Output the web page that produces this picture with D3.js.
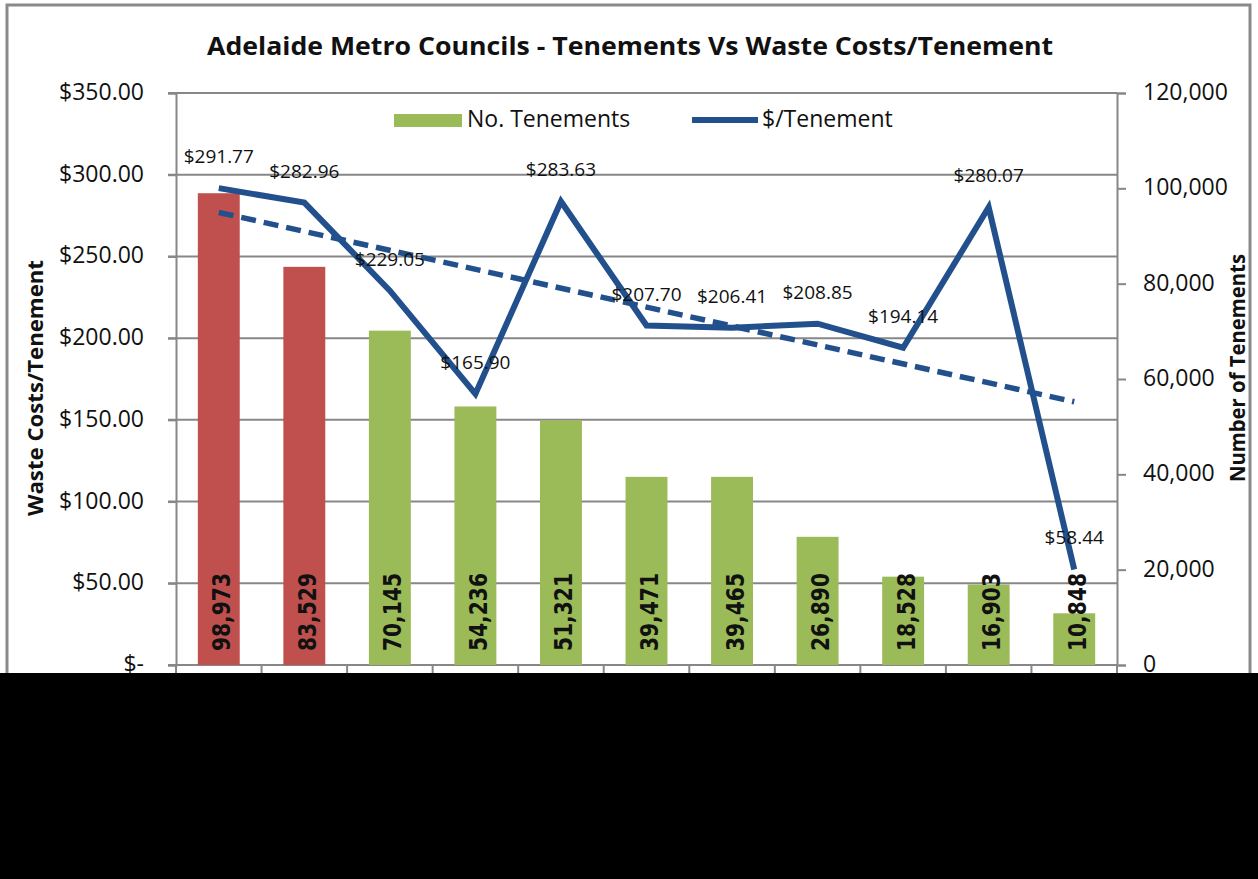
<!DOCTYPE html>
<html>
<head>
<meta charset="utf-8">
<script src="https://cdn.jsdelivr.net/npm/d3@7"></script>
<style>
  body { margin: 0; background: #fff; }
  svg { display: block; }
</style>
</head>
<body>
<svg id="drawing_region"></svg>
<script>
// values
const councils = ['C1', 'C2', 'C3', 'C4', 'C5', 'C6', 'C7', 'C8', 'C9', 'C10', 'C11']
const tenements = [98973, 83529, 70145, 54236, 51321, 39471, 39465, 26890, 18528, 16903, 10848]
const costPerTenement = [291.77, 282.96, 229.05, 165.90, 283.63, 207.70, 206.41, 208.85, 194.14, 280.07, 58.44]
const leftTicks = [0, 50, 100, 150, 200, 250, 300, 350]
const rightTicks = [0, 20000, 40000, 60000, 80000, 100000, 120000]
const highlighted = 2   // first bars drawn in red

class ComboChart {
    constructor(config) {
        this.config = config
        this.init()
    }

    init() {
        let self = this
        let c = self.config

        self.svg = d3.select(c.parent)
            .attr('width', c.width)
            .attr('height', c.height)

        self.x = d3.scaleBand().domain(councils)
            .range([c.left, c.right])
            .paddingInner(0.51).paddingOuter(0.255)
        self.yLeft = d3.scaleLinear().domain([0, 350]).range([c.bottom, c.top])
        self.yRight = d3.scaleLinear().domain([0, 120000]).range([c.bottom, c.top])
    }

    render() {
        let self = this
        let c = self.config
        let svg = self.svg
        let font = "'Open Sans', 'Liberation Sans', sans-serif"

        // outer frame
        svg.append('rect')
            .attr('x', 7).attr('y', 5)
            .attr('width', c.width - 15).attr('height', c.height - 10)
            .attr('fill', '#fff').attr('stroke', '#8a8a8a').attr('stroke-width', 3)

        // gridlines
        svg.append('g').selectAll('line').data(leftTicks).enter()
            .append('line')
            .attr('x1', c.left - 8).attr('x2', c.right)
            .attr('y1', d => self.yLeft(d)).attr('y2', d => self.yLeft(d))
            .attr('stroke', '#878787').attr('stroke-width', 2)

        // left axis
        let leftAxis = svg.append('g')
            .attr('transform', `translate(${c.left},0)`)
            .call(d3.axisLeft(self.yLeft).tickValues(leftTicks).tickSize(8).tickPadding(24)
                .tickFormat(d => d === 0 ? '$-' : '$' + d3.format('.2f')(d)))
        // right axis
        let rightAxis = svg.append('g')
            .attr('transform', `translate(${c.right},0)`)
            .call(d3.axisRight(self.yRight).tickValues(rightTicks).tickSize(9).tickPadding(17)
                .tickFormat(d3.format(',')))
        ;[leftAxis, rightAxis].forEach(a => {
            a.select('.domain').attr('stroke', '#878787').attr('stroke-width', 2)
            a.selectAll('.tick line').attr('stroke', '#878787').attr('stroke-width', 2)
            a.selectAll('.tick text')
                .attr('font-family', font).attr('font-size', 23)
                .attr('fill', '#111').attr('dy', '0.28em')
        })

        // bottom axis with category boundary ticks
        svg.append('line')
            .attr('x1', c.left).attr('x2', c.right)
            .attr('y1', c.bottom).attr('y2', c.bottom)
            .attr('stroke', '#878787').attr('stroke-width', 2)
        svg.append('g').selectAll('line').data(d3.range(councils.length + 1)).enter()
            .append('line')
            .attr('x1', i => c.left + i * self.x.step()).attr('x2', i => c.left + i * self.x.step())
            .attr('y1', c.bottom).attr('y2', c.bottom + 9)
            .attr('stroke', '#878787').attr('stroke-width', 2)

        // bars
        let barData = councils.map((k, i) => ({ key: k, value: tenements[i], index: i }))
        svg.append('g').selectAll('rect').data(barData).enter()
            .append('rect')
            .attr('x', d => self.x(d.key))
            .attr('width', self.x.bandwidth())
            .attr('y', d => self.yRight(d.value))
            .attr('height', d => c.bottom - self.yRight(d.value))
            .attr('fill', d => d.index < highlighted ? '#C0504D' : '#9BBB59')

        // cost line
        let pts = councils.map((k, i) => ({ key: k, value: costPerTenement[i], index: i }))
        let cx = d => self.x(d.key) + self.x.bandwidth() / 2
        let line = d3.line().x(cx).y(d => self.yLeft(d.value))
        svg.append('path').datum(pts)
            .attr('d', line)
            .attr('fill', 'none').attr('stroke', '#22508D').attr('stroke-width', 6)

        // linear trendline
        let xs = pts.map((d, i) => i + 1)
        let mx = d3.mean(xs), my = d3.mean(costPerTenement)
        let slope = d3.sum(xs, (x, i) => (x - mx) * (costPerTenement[i] - my)) / d3.sum(xs, x => (x - mx) ** 2)
        let trend = pts.map((d, i) => ({ key: d.key, value: my + slope * (xs[i] - mx) }))
        svg.append('path').datum([trend[0], trend[trend.length - 1]])
            .attr('d', line)
            .attr('fill', 'none').attr('stroke', '#22508D').attr('stroke-width', 5.5)
            .attr('stroke-dasharray', '15,8')

        // line value labels
        svg.append('g').selectAll('text').data(pts).enter()
            .append('text')
            .attr('x', cx)
            .attr('y', d => self.yLeft(d.value) - 25)
            .attr('text-anchor', 'middle')
            .attr('font-family', font).attr('font-size', 19).attr('fill', '#111')
            .text(d => '$' + d3.format('.2f')(d.value))

        // bar value labels
        svg.append('g').selectAll('text').data(barData).enter()
            .append('text')
            .attr('transform', d => `translate(${cx(d) + 3},${c.bottom - 14}) rotate(-90)`)
            .attr('dominant-baseline', 'central')
            .attr('font-family', "'DejaVu Sans', sans-serif").attr('font-weight', 'bold')
            .attr('font-size', 25).attr('fill', '#111')
            .attr('textLength', 78).attr('lengthAdjust', 'spacingAndGlyphs')
            .text(d => d3.format(',')(d.value))

        // legend
        let legend = svg.append('g')
        legend.append('rect')
            .attr('x', 394).attr('y', 114).attr('width', 68).attr('height', 13)
            .attr('fill', '#9BBB59')
        legend.append('text')
            .attr('x', 467).attr('y', 127)
            .attr('font-family', font).attr('font-size', 23).attr('fill', '#111')
            .text('No. Tenements')
        legend.append('line')
            .attr('x1', 692).attr('x2', 758).attr('y1', 120).attr('y2', 120)
            .attr('stroke', '#22508D').attr('stroke-width', 6)
        legend.append('text')
            .attr('x', 762).attr('y', 127)
            .attr('font-family', font).attr('font-size', 23).attr('fill', '#111')
            .text('$/Tenement')

        // title
        svg.append('text')
            .attr('x', 630).attr('y', 55)
            .attr('text-anchor', 'middle')
            .attr('font-family', font).attr('font-weight', 'bold').attr('font-size', 25)
            .attr('fill', '#111')
            .attr('textLength', 846).attr('lengthAdjust', 'spacingAndGlyphs')
            .text('Adelaide Metro Councils - Tenements Vs Waste Costs/Tenement')

        // axis titles
        svg.append('text')
            .attr('transform', 'translate(34,388) rotate(-90)')
            .attr('text-anchor', 'middle').attr('dominant-baseline', 'central')
            .attr('font-family', font).attr('font-weight', 'bold').attr('font-size', 22)
            .attr('fill', '#111')
            .attr('textLength', 256).attr('lengthAdjust', 'spacingAndGlyphs')
            .text('Waste Costs/Tenement')
        svg.append('text')
            .attr('transform', 'translate(1236,368) rotate(-90)')
            .attr('text-anchor', 'middle').attr('dominant-baseline', 'central')
            .attr('font-family', font).attr('font-weight', 'bold').attr('font-size', 22)
            .attr('fill', '#111')
            .attr('textLength', 228).attr('lengthAdjust', 'spacingAndGlyphs')
            .text('Number of Tenements')

        // black band covering the lower part of the picture
        svg.append('rect')
            .attr('x', 0).attr('y', 673)
            .attr('width', c.width).attr('height', c.height - 673)
            .attr('fill', '#000')
    }
}

const chart = new ComboChart({
    parent: '#drawing_region',
    width: 1258,
    height: 879,
    left: 176,
    right: 1117,
    top: 93,
    bottom: 665
})
chart.render()
</script>
</body>
</html>
